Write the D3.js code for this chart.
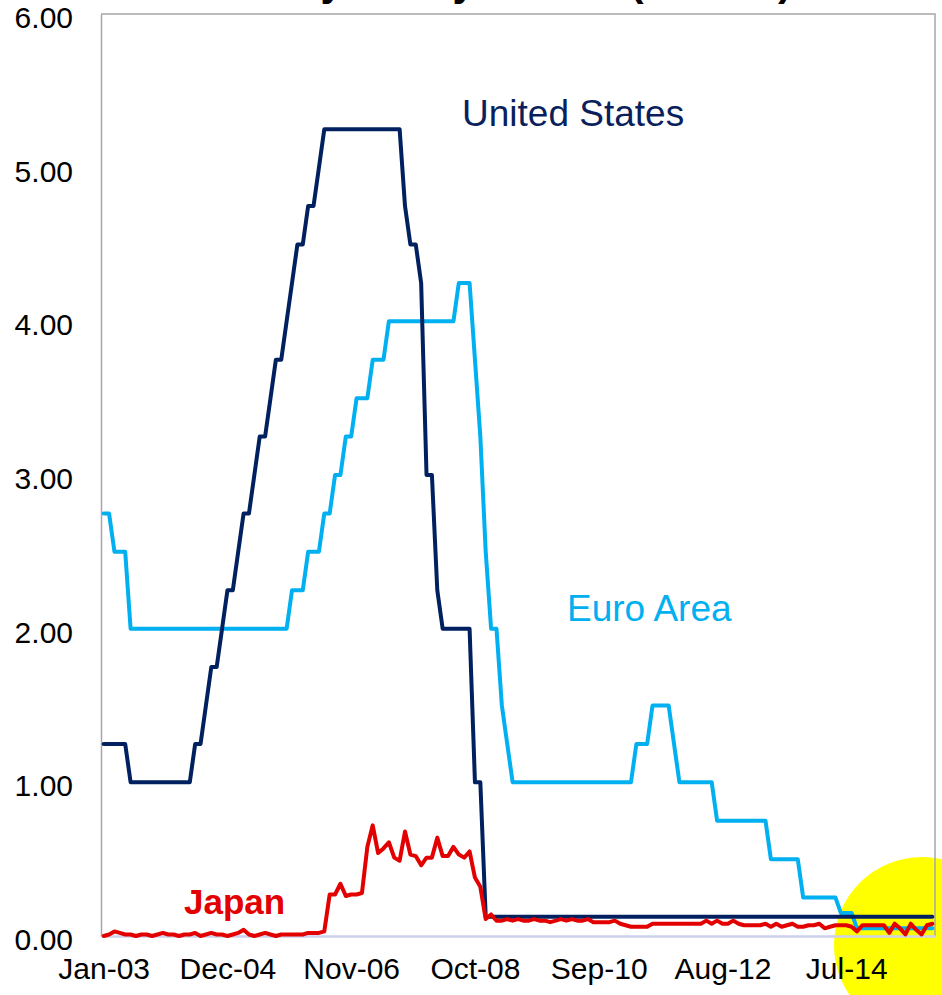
<!DOCTYPE html>
<html>
<head>
<meta charset="utf-8">
<script src="https://cdn.jsdelivr.net/npm/d3@7"></script>
<style>
  html, body { margin: 0; padding: 0; background: #fff; }
  svg { display: block; font-family: "Liberation Sans", Arial, sans-serif; }
</style>
</head>
<body>
<svg id="chart" width="942" height="995"></svg>
<script>
// ---- Data (monthly, Jan-03 .. Nov-15) ----
const startMonth = new Date(2003, 0, 1);
const endMonthExclusive = new Date(2015, 11, 1);

const xTickLabels = ["Jan-03", "Dec-04", "Nov-06", "Oct-08", "Sep-10", "Aug-12", "Jul-14"];
const yTickValues = [0, 1, 2, 3, 4, 5, 6];

const unitedStates = [
  1.25,1.25,1.25,1.25,1.25,
  1.00,1.00,1.00,1.00,1.00,1.00,1.00,1.00,1.00,1.00,1.00,1.00,
  1.25,1.25,1.50,1.75,1.75,2.00,2.25,2.25,2.50,2.75,2.75,3.00,3.25,3.25,3.50,3.75,3.75,4.00,4.25,4.50,4.50,4.75,4.75,5.00,
  5.25,5.25,5.25,5.25,5.25,5.25,5.25,5.25,5.25,5.25,5.25,5.25,5.25,5.25,5.25,
  4.75,4.50,4.50,4.25,3.00,3.00,2.25,
  2.00,2.00,2.00,2.00,2.00,2.00,
  1.00,1.00,
  0.125,0.125,0.125,0.125,0.125,0.125,0.125,0.125,0.125,0.125,0.125,0.125,
  0.125,0.125,0.125,0.125,0.125,0.125,0.125,0.125,0.125,0.125,0.125,0.125,
  0.125,0.125,0.125,0.125,0.125,0.125,0.125,0.125,0.125,0.125,0.125,0.125,
  0.125,0.125,0.125,0.125,0.125,0.125,0.125,0.125,0.125,0.125,0.125,0.125,
  0.125,0.125,0.125,0.125,0.125,0.125,0.125,0.125,0.125,0.125,0.125,0.125,
  0.125,0.125,0.125,0.125,0.125,0.125,0.125,0.125,0.125,0.125,0.125,0.125,
  0.125,0.125,0.125,0.125,0.125,0.125,0.125,0.125,0.125,0.125,0.125,0.125
];

const euroArea = [
  2.75,2.75,
  2.50,2.50,2.50,
  2.00,2.00,2.00,2.00,2.00,2.00,2.00,2.00,2.00,2.00,2.00,2.00,2.00,2.00,2.00,
  2.00,2.00,2.00,2.00,2.00,2.00,2.00,2.00,2.00,2.00,2.00,2.00,2.00,2.00,2.00,
  2.25,2.25,2.25,
  2.50,2.50,2.50,
  2.75,2.75,
  3.00,3.00,
  3.25,3.25,
  3.50,3.50,3.50,
  3.75,3.75,3.75,
  4.00,4.00,4.00,4.00,4.00,4.00,4.00,4.00,4.00,4.00,4.00,4.00,4.00,
  4.25,4.25,4.25,
  3.75,3.25,2.50,2.00,2.00,1.50,1.25,
  1.00,1.00,1.00,1.00,1.00,1.00,1.00,1.00,1.00,1.00,1.00,1.00,
  1.00,1.00,1.00,1.00,1.00,1.00,1.00,1.00,1.00,1.00,1.00,
  1.25,1.25,1.25,
  1.50,1.50,1.50,1.50,
  1.25,
  1.00,1.00,1.00,1.00,1.00,1.00,1.00,
  0.75,0.75,0.75,0.75,0.75,0.75,0.75,0.75,0.75,0.75,
  0.50,0.50,0.50,0.50,0.50,0.50,
  0.25,0.25,0.25,0.25,0.25,0.25,0.25,
  0.15,0.15,0.15,
  0.05,0.05,0.05,0.05,0.05,0.05,0.05,0.05,0.05,0.05,0.05,0.05,0.05,0.05,0.05
];

const japan = [
  0.00,0.01,0.03,0.02,0.01,0.01,0.00,0.01,0.01,0.00,
  0.01,0.02,0.01,0.01,0.00,0.01,0.01,0.02,0.00,0.01,
  0.02,0.01,0.01,0.00,0.01,0.02,0.04,0.01,0.00,0.01,
  0.02,0.01,0.00,0.01,0.01,0.01,0.01,0.01,0.02,0.02,
  0.02,0.03,
  0.27,0.27,0.34,0.26,0.27,0.27,0.28,0.58,0.72,0.54,
  0.57,0.61,0.51,0.49,0.68,0.53,0.52,0.46,0.51,0.51,
  0.64,0.52,0.52,0.58,0.53,0.51,0.55,0.38,0.32,0.11,
  0.14,0.10,
  0.10,0.11,0.10,0.11,0.10,0.10,0.11,0.10,0.10,0.09,0.10,0.11,0.10,0.11,0.10,0.10,0.11,
  0.09,0.09,0.09,0.09,0.10,0.08,0.07,0.06,0.06,0.06,0.06,
  0.08,0.08,0.08,0.08,0.08,0.08,0.08,0.08,0.08,0.08,
  0.10,0.08,0.10,0.08,0.08,0.10,0.08,0.07,0.07,0.07,0.07,0.08,
  0.06,0.08,0.06,0.07,0.08,0.06,0.06,0.07,0.07,0.08,0.05,0.06,0.07,0.07,0.07,0.06,
  0.03,0.07,0.07,0.07,0.07,0.07,0.02,0.08,0.05,0.01,0.08,0.04,0.01,0.07,0.08
];

// ---- Layout ----
const svg = d3.select("#chart");
const plot = { left: 101, right: 935, top: 14, bottom: 936 };
const fmtMonth = d3.timeFormat("%b-%y");
const months = d3.timeMonth.range(startMonth, endMonthExclusive).map(fmtMonth);

const x = d3.scalePoint().domain(months).range([plot.left, plot.right]).padding(0.5);
const y = d3.scaleLinear().domain([0, 6]).range([plot.bottom, plot.top]);

// Highlight circle (drawn beneath everything)
svg.append("circle")
  .attr("cx", 922).attr("cy", 945).attr("r", 88)
  .attr("fill", "#ffff00");

// Plot-area frame (top / right)
svg.append("path")
  .attr("d", `M${plot.left},${plot.top}H${plot.right}V${plot.bottom}`)
  .attr("fill", "none").attr("stroke", "#a6a6a6").attr("stroke-width", 1.5);

// Y axis
const yAxis = svg.append("g")
  .attr("transform", `translate(${plot.left},0)`)
  .call(d3.axisLeft(y).tickValues(yTickValues).tickFormat(d3.format(".2f"))
        .tickSize(0).tickPadding(28));
yAxis.select(".domain").attr("stroke", "#a6a6a6").attr("stroke-width", 1.5);
yAxis.selectAll("text").attr("font-size", 30).attr("fill", "#000")
  .attr("dy", "0.45em")
  .attr("font-family", "'Liberation Sans', Arial, sans-serif");

// X axis
const xAxis = svg.append("g")
  .attr("transform", `translate(0,${plot.bottom})`)
  .call(d3.axisBottom(x).tickValues(xTickLabels).tickSize(0).tickSizeOuter(0).tickPadding(22));
xAxis.select(".domain").attr("stroke", "#cdd1ec").attr("stroke-width", 2.5);
xAxis.selectAll("text").attr("font-size", 30).attr("fill", "#000")
  .attr("font-family", "'Liberation Sans', Arial, sans-serif");

// Lines
const line = d3.line().x((d, i) => x(months[i])).y(d => y(d));
const series = [
  { values: euroArea, color: "#00b0f0" },
  { values: unitedStates, color: "#002060" },
  { values: japan, color: "#e30000" }
];
series.forEach(s => {
  svg.append("path")
    .datum(s.values)
    .attr("d", line)
    .attr("fill", "none")
    .attr("stroke", s.color)
    .attr("stroke-width", 4)
    .attr("stroke-linejoin", "round")
    .attr("stroke-linecap", "round");
});

// Series labels
svg.append("text").text("United States")
  .attr("x", 462).attr("y", 126).attr("font-size", 37).attr("fill", "#0a1f5c");
svg.append("text").text("Euro Area")
  .attr("x", 567).attr("y", 621).attr("font-size", 37).attr("fill", "#00b0f0");
svg.append("text").text("Japan")
  .attr("x", 184).attr("y", 914).attr("font-size", 35).attr("font-weight", "bold").attr("fill", "#e30000");

// Title (clipped at top of the canvas, only descenders visible, as in the reference)
const title = svg.append("text")
  .attr("font-size", 41).attr("font-weight", "bold").attr("fill", "#000");
title.append("tspan").attr("x", 268).attr("y", -4).text("Key Policy Rates");
title.append("tspan").attr("x", 630).attr("y", -4).text("(");
title.append("tspan").attr("x", 650).attr("y", -9).attr("textLength", 112)
  .attr("lengthAdjust", "spacingAndGlyphs").text("% annual");
title.append("tspan").attr("x", 778).attr("y", -4).text(")");
</script>
</body>
</html>
